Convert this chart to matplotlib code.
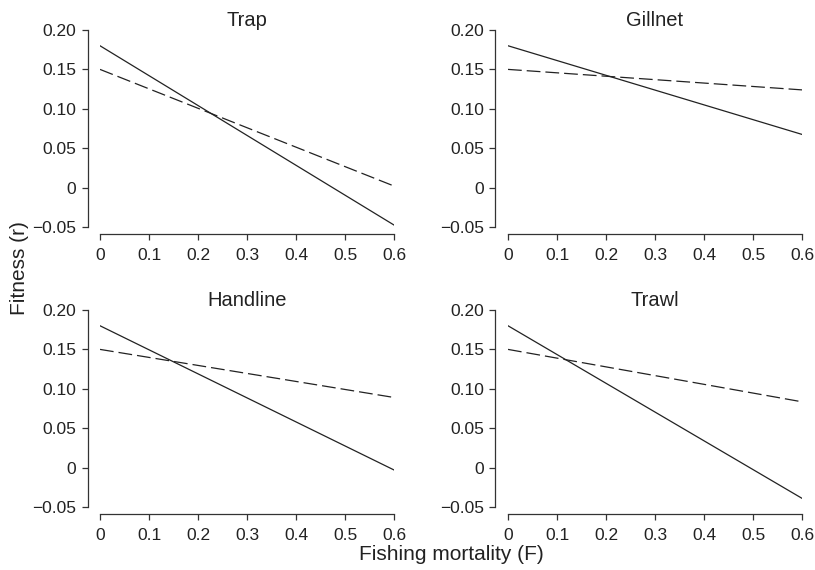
import matplotlib
matplotlib.use("Agg")
import matplotlib.pyplot as plt
from matplotlib.ticker import FixedLocator, FixedFormatter

plt.rcParams['font.family'] = ['Liberation Sans', 'DejaVu Sans']

## data
gears = ["Trap", "Gillnet", "Handline", "Trawl"]
F = [0.0, 0.6]
solid_r = [[0.18, -0.0475], [0.18, 0.0675], [0.18, -0.003], [0.18, -0.039]]
dashed_r = [[0.15, 0.002], [0.15, 0.124], [0.15, 0.089], [0.15, 0.0835]]

xticks = [0, 0.1, 0.2, 0.3, 0.4, 0.5, 0.6]
xticklabels = ["0", "0.1", "0.2", "0.3", "0.4", "0.5", "0.6"]
yticks = [-0.05, 0, 0.05, 0.10, 0.15, 0.20]
yticklabels = ["\u22120.05", "0", "0.05", "0.10", "0.15", "0.20"]

fig = plt.figure(figsize=(8.15, 5.7), dpi=100)
W, H = 815.0, 570.0
# axes boxes in pixels: (x0, x1, ytop, ybottom)
boxes = [(100, 394, 30, 227), (508, 802, 30, 227),
         (100, 394, 310, 507), (508, 802, 310, 507)]

spine_col = "#333333"
for i, (x0, x1, yt, yb) in enumerate(boxes):
    ax = fig.add_axes([x0 / W, 1 - yb / H, (x1 - x0) / W, (yb - yt) / H])
    ax.plot(F, solid_r[i], color="#222222", lw=0.9)
    ax.plot(F, dashed_r[i], color="#222222", lw=0.9, dashes=(11, 4))
    ax.set_xlim(0, 0.6)
    ax.set_ylim(-0.05, 0.20)
    ax.spines["top"].set_visible(False)
    ax.spines["right"].set_visible(False)
    ax.spines["left"].set_position(("outward", 9))
    ax.spines["bottom"].set_position(("outward", 5))
    for s in ("left", "bottom"):
        ax.spines[s].set_color(spine_col)
        ax.spines[s].set_linewidth(0.9)
    ax.xaxis.set_major_locator(FixedLocator(xticks))
    ax.xaxis.set_major_formatter(FixedFormatter(xticklabels))
    ax.yaxis.set_major_locator(FixedLocator(yticks))
    ax.yaxis.set_major_formatter(FixedFormatter(yticklabels))
    ax.tick_params(length=4, width=0.9, color=spine_col, labelsize=12.5,
                   labelcolor="#222222", pad=4)
    ax.tick_params(axis="x", pad=6)
    ax.set_facecolor("none")
    ax.set_title(gears[i], fontsize=14.5, color="#222222", pad=3)

fig.text(451 / W, 1 - 555 / H, "Fishing mortality (F)", ha="center",
         va="center", fontsize=15, color="#222222")
fig.text(20 / W, 1 - 268 / H, "Fitness (r)", ha="center", va="center",
         rotation=90, fontsize=15, color="#222222")

fig.savefig("out.png", dpi=100)
